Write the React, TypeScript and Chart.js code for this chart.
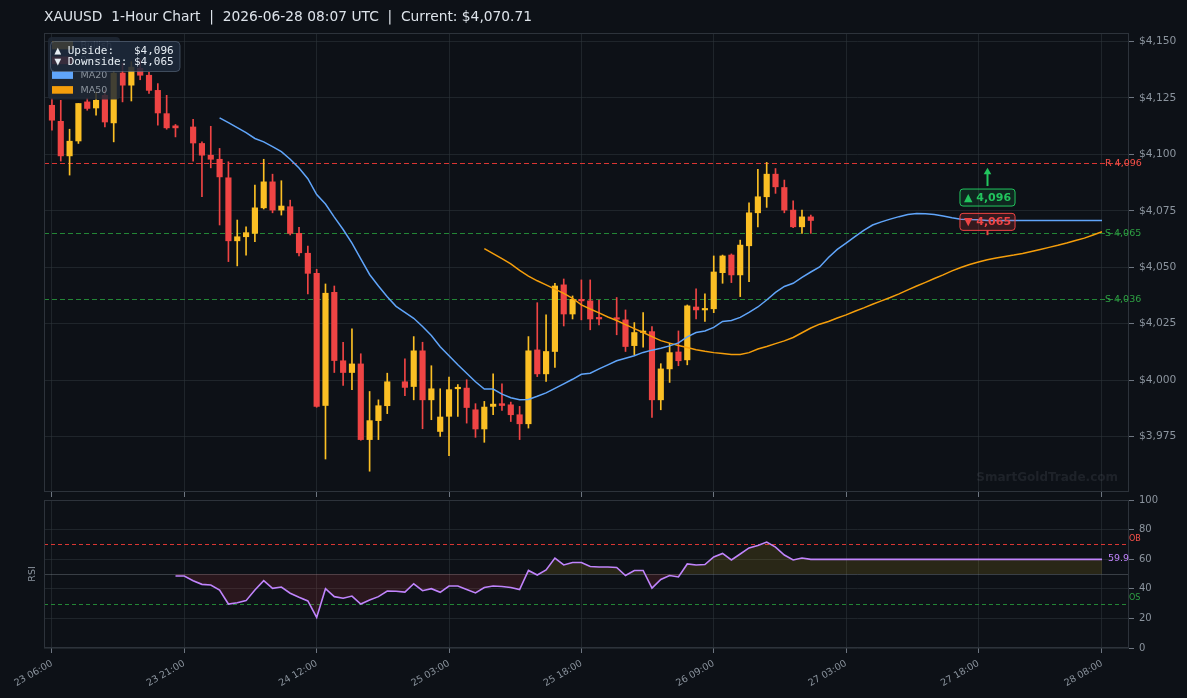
import React, { useEffect, useRef } from 'react';
import { Chart, registerables } from 'chart.js';

Chart.register(...registerables);

// ---------------- DATA ----------------
const TITLE = 'XAUUSD  1-Hour Chart  |  2026-06-28 08:07 UTC  |  Current: $4,070.71';
const WATERMARK = 'SmartGoldTrade.com';

// candle OHLC, index 0..86 (null = missing hour)
const opens: (number | null)[] = [
  4121.7, 4114.6, 4099.3, 4105.9, 4123.2, 4120.5, 4126.1, 4113.9, 4136.0, 4130.6,
  4138.1, 4135.0, 4128.3, 4118.0, 4112.6, null, 4112.1, 4104.8, 4099.6, 4097.8,
  4089.6, 4061.7, 4063.5, 4065.0, 4076.3, 4087.8, 4075.3, 4076.8, 4065.0, 4056.2,
  4047.3, 3988.8, 4038.9, 4008.6, 4003.4, 4007.2, 3973.7, 3982.1, 3988.7, null,
  3999.3, 3997.2, 4013.0, 3991.3, 3977.3, 3984.0, 3996.2, 3996.5, 3986.9, 3978.4,
  3988.4, 3989.6, 3989.1, 3984.7, 3980.7, 4013.4, 4002.8, 4012.7, 4042.2, 4029.3,
  4035.8, 4035.1, 4027.8, null, 4027.4, 4026.7, 4015.3, 4021.1, 4021.5, 3991.3,
  4005.0, 4012.5, 4009.0, 4032.4, 4031.1, 4031.6, 4047.6, 4055.4, 4046.6, 4059.5,
  4074.1, 4081.2, 4091.2, 4085.3, 4075.3, 4067.9, 4072.3,
];
const highs: (number | null)[] = [
  4124.8, 4123.9, 4111.1, 4122.5, 4124.8, 4127.5, 4128.3, 4137.0, 4140.3, 4141.0,
  4141.8, 4136.3, 4131.3, 4126.1, 4113.2, null, 4115.5, 4105.5, 4112.4, 4102.6,
  4096.7, 4070.9, 4067.9, 4086.4, 4097.8, 4091.2, 4088.3, 4079.7, 4067.7, 4059.4,
  4049.1, 4042.6, 4041.7, 4016.8, 4022.7, 4011.7, 3995.0, 3991.3, 4003.1, null,
  4009.5, 4019.3, 4016.8, 4006.4, 3996.2, 4001.4, 3998.0, 4000.2, 3989.6, 3990.6,
  4002.8, 3998.4, 3990.3, 3988.4, 4019.3, 4034.3, 4028.9, 4042.9, 4044.8, 4037.3,
  4044.4, 4044.4, 4035.5, null, 4036.6, 4031.1, 4025.5, 4029.9, 4023.7, 4007.3,
  4016.4, 4021.8, 4033.3, 4040.4, 4038.2, 4055.0, 4055.4, 4055.9, 4062.0, 4078.5,
  4093.4, 4096.4, 4093.7, 4088.6, 4079.4, 4075.3, 4073.1,
];
const lows: (number | null)[] = [
  4110.7, 4097.0, 4090.8, 4104.8, 4119.5, 4117.3, 4112.1, 4105.5, 4123.2, 4123.6,
  4133.0, 4127.0, 4112.9, 4111.1, 4107.7, null, 4097.0, 4081.2, 4094.0, 4068.7,
  4052.5, 4050.6, 4055.4, 4061.3, 4075.8, 4074.1, 4073.1, 4064.3, 4055.0, 4038.2,
  3988.0, 3965.1, 4003.4, 3997.7, 3995.8, 3973.4, 3959.7, 3973.7, 3985.2, null,
  3993.1, 3991.3, 3978.5, 3982.5, 3975.1, 3966.6, 3984.0, 3981.0, 3974.7, 3972.5,
  3984.7, 3986.6, 3981.7, 3973.7, 3978.8, 4001.6, 3999.4, 4005.6, 4024.0, 4027.1,
  4026.7, 4022.3, 4024.5, null, 4020.1, 4012.7, 4011.2, 4014.6, 3983.5, 3986.9,
  3999.0, 4006.4, 4006.8, 4027.1, 4026.0, 4029.9, 4042.9, 4043.2, 4037.0, 4043.6,
  4067.9, 4076.5, 4082.7, 4074.1, 4067.5, 4065.0, 4065.0,
];
const closes: (number | null)[] = [
  4115.1, 4099.3, 4105.8, 4122.5, 4120.3, 4123.9, 4114.3, 4135.9, 4130.6, 4138.6,
  4135.0, 4128.3, 4118.3, 4111.7, 4111.7, null, 4105.0, 4099.6, 4097.8, 4090.0,
  4061.7, 4063.5, 4065.3, 4076.3, 4087.8, 4075.3, 4077.1, 4065.0, 4056.4, 4047.3,
  3988.4, 4038.5, 4008.7, 4003.4, 4007.2, 3973.7, 3982.1, 3988.7, 3999.3, null,
  3996.8, 4013.0, 3991.3, 3996.2, 3983.7, 3995.8, 3996.8, 3987.9, 3978.4, 3988.1,
  3989.4, 3988.8, 3984.7, 3980.7, 4013.0, 4002.8, 4012.7, 4041.7, 4029.3, 4035.8,
  4035.1, 4027.1, 4027.1, null, 4027.0, 4014.9, 4021.1, 4021.5, 3991.3, 4005.0,
  4012.2, 4008.6, 4032.9, 4031.1, 4031.6, 4047.9, 4055.0, 4046.6, 4059.8, 4074.1,
  4081.2, 4091.2, 4085.6, 4075.3, 4067.9, 4072.3, 4070.7,
];

const MA20_START = 19;
const ma20 = [
  4116.1, 4114.0, 4111.8, 4109.6, 4107.0, 4105.5, 4103.4, 4101.2, 4097.8, 4093.9,
  4089.2, 4082.2, 4078.0, 4072.2, 4066.7, 4060.7, 4053.7, 4046.8, 4041.7, 4036.9,
  4032.7, 4030.0, 4027.4, 4023.8, 4019.8, 4014.8, 4010.8, 4006.8, 4003.1, 3999.3,
  3996.1, 3996.1, 3993.8, 3992.2, 3991.3, 3991.5, 3992.9, 3994.4, 3996.4, 3998.4,
  4000.4, 4002.6, 4003.1, 4005.0, 4006.8, 4008.6, 4009.7, 4010.8, 4012.3, 4013.3,
  4014.1, 4015.2, 4016.5, 4019.2, 4021.1, 4021.8, 4023.4, 4026.0, 4026.4, 4027.8,
  4030.0, 4032.4, 4035.5, 4038.9, 4041.5, 4042.9, 4045.5, 4047.9, 4050.1, 4054.3,
  4057.9, 4060.7, 4063.6, 4066.3, 4068.7, 4070.1, 4071.3, 4072.4, 4073.3, 4073.8,
  4073.7, 4073.3, 4072.7, 4071.9, 4071.3, 4071.1, 4071.0, 4070.7, 4070.7, 4070.7,
  4070.7, 4070.7, 4070.7, 4070.7, 4070.7, 4070.7, 4070.7, 4070.7, 4070.7, 4070.7,
  4070.7,
];

const MA50_START = 49;
const ma50 = [
  4058.2, 4056.0, 4053.8, 4051.5, 4048.6, 4046.1, 4044.0, 4042.2, 4040.3, 4038.4,
  4036.2, 4033.3, 4031.5, 4029.8, 4028.0, 4026.4, 4024.6, 4022.8, 4021.1, 4019.3,
  4017.5, 4016.4, 4015.4, 4014.5, 4013.5, 4012.8, 4012.2, 4011.8, 4011.4, 4011.4,
  4012.2, 4013.8, 4014.9, 4016.2, 4017.4, 4018.9, 4021.0, 4023.1, 4024.8, 4026.0,
  4027.5, 4028.9, 4030.5, 4032.0, 4033.6, 4035.1, 4036.6, 4038.2, 4040.0, 4041.7,
  4043.3, 4045.0, 4046.6, 4048.4, 4049.9, 4051.2, 4052.3, 4053.3, 4054.1, 4054.8,
  4055.4, 4056.1, 4057.0, 4057.9, 4058.8, 4059.7, 4060.7, 4061.8, 4062.9, 4064.3,
  4065.7,
];

const RSI_START = 14;
const rsi = [
  48.6, 48.6, 45.5, 43.0, 42.6, 39.2, 29.7, 30.6, 32.0, 39.2,
  45.5, 40.3, 41.2, 37.0, 34.3, 31.8, 20.7, 40.1, 34.7, 33.6,
  35.1, 29.7, 32.4, 34.7, 38.5, 38.3, 37.8, 43.4, 38.7, 40.1,
  37.6, 41.9, 41.9, 39.5, 37.2, 40.9, 41.9, 41.6, 40.9, 39.5,
  52.4, 49.3, 52.7, 60.8, 56.1, 57.8, 57.8, 55.1, 54.7, 54.7,
  54.4, 49.0, 52.4, 52.4, 40.5, 46.3, 49.0, 48.0, 56.8, 56.1,
  56.4, 61.5, 63.9, 59.5, 63.5, 67.6, 69.3, 71.6, 68.2, 62.8,
  59.5, 60.8, 59.9, 59.9, 59.9, 59.9, 59.9, 59.9, 59.9, 59.9,
  59.9, 59.9, 59.9, 59.9, 59.9, 59.9, 59.9, 59.9, 59.9, 59.9,
  59.9, 59.9, 59.9, 59.9, 59.9, 59.9, 59.9, 59.9, 59.9, 59.9,
  59.9, 59.9, 59.9, 59.9, 59.9, 59.9,
];

const tickIdx = [0, 15, 30, 45, 60, 75, 90, 105, 119];
const tickLabels = ['23 06:00', '23 21:00', '24 12:00', '25 03:00', '25 18:00', '26 09:00', '27 03:00', '27 18:00', '28 08:00'];
const priceTicks = [3975, 4000, 4025, 4050, 4075, 4100, 4125, 4150];
const rsiTicks = [0, 20, 40, 60, 80, 100];

const levelValues = [4096, 4065, 4036];
const levelLabels = ['R 4,096', 'S 4,065', 'S 4,036'];
const levelKinds = ['R', 'S', 'S'];

const upside = 4096;
const downside = 4065;
const ANNOT_IDX = 106;

const legendLabels = ['Bullish', 'Bearish', 'MA20', 'MA50'];

const rsiLevelValues = [70, 30];
const rsiLevelLabels = ['OB', 'OS'];
const RSI_MID = 50;

// ---------------- STYLE ----------------
const BG = '#0d1117';
const FONT = "'DejaVu Sans', sans-serif";
const MONO = "'DejaVu Sans Mono', monospace";
const BULL = '#fbbf24';
const BEAR = '#ef4444';
const BLUE = '#60a5fa';
const ORANGE = '#f59e0b';
const PURPLE = '#c084fc';
const GRID = 'rgba(48,54,61,0.55)';
const TICKC = '#6e7681';
const LABEL = '#8b949e';
const BORDER = '#2d333b';
const GREEN = '#22c55e';
const RLINE = '#da3633';
const RTEXT = '#f85149';
const SLINE = '#238636';
const STEXT = '#2ea043';

const X_MIN = -0.9;
const X_MAX = 122.06;
const Y_MIN = 3950.5;
const Y_MAX = 4153.7;

const fmt = (v: number) => v.toLocaleString('en-US');

function rrect(ctx: CanvasRenderingContext2D, x: number, y: number, w: number, h: number, r: number) {
  ctx.beginPath();
  if ((ctx as any).roundRect) (ctx as any).roundRect(x, y, w, h, r);
  else ctx.rect(x, y, w, h);
}

const zeroPad = (s: any) => {
  s.paddingTop = 0;
  s.paddingBottom = 0;
  s.paddingLeft = 0;
  s.paddingRight = 0;
};

const mainPlugin = {
  id: 'mainDecor',
  beforeDatasetsDraw(chart: any) {
    const { ctx, chartArea: a, scales } = chart;
    ctx.save();
    ctx.font = `bold 12px ${FONT}`;
    ctx.fillStyle = 'rgba(110,118,129,0.18)';
    ctx.textAlign = 'right';
    ctx.textBaseline = 'alphabetic';
    ctx.fillText(WATERMARK, a.right - 11, a.bottom - 11);
    levelValues.forEach((v, k) => {
      const y = Math.round(scales.y.getPixelForValue(v)) + 0.5;
      ctx.strokeStyle = levelKinds[k] === 'R' ? RLINE : SLINE;
      ctx.lineWidth = 1;
      ctx.setLineDash([5, 3]);
      ctx.beginPath();
      ctx.moveTo(a.left, y);
      ctx.lineTo(a.right, y);
      ctx.stroke();
    });
    ctx.restore();
  },
  afterDatasetsDraw(chart: any) {
    const { ctx, chartArea: a, scales } = chart;
    ctx.save();
    ctx.setLineDash([]);
    // border
    ctx.strokeStyle = BORDER;
    ctx.lineWidth = 1;
    ctx.strokeRect(a.left + 0.5, a.top + 0.5, a.right - a.left - 1, a.bottom - a.top - 1);

    // level labels
    ctx.font = `9.5px ${FONT}`;
    ctx.textAlign = 'left';
    ctx.textBaseline = 'middle';
    levelValues.forEach((v, k) => {
      const y = scales.y.getPixelForValue(v);
      ctx.fillStyle = levelKinds[k] === 'R' ? RTEXT : STEXT;
      ctx.fillText(levelLabels[k], scales.x.getPixelForValue(tickIdx[tickIdx.length - 1]) + 3, y + 0.5);
    });

    // annotations
    const xa = Math.round(scales.x.getPixelForValue(ANNOT_IDX)) + 0.5;
    const yUp = scales.y.getPixelForValue(upside);
    const yDn = scales.y.getPixelForValue(downside);
    ctx.font = `bold 11px ${FONT}`;
    const drawBox = (cy: number, text: string, col: string, fill: string) => {
      const tw = ctx.measureText(text).width;
      const w = tw + 8;
      const h = 17;
      rrect(ctx, xa - w / 2, cy - h / 2, w, h, 3);
      ctx.fillStyle = fill;
      ctx.fill();
      ctx.strokeStyle = col;
      ctx.lineWidth = 1;
      ctx.stroke();
      ctx.fillStyle = col;
      ctx.textAlign = 'center';
      ctx.textBaseline = 'middle';
      ctx.fillText(text, xa, cy + 0.5);
    };
    const gy = yUp + 34.2;
    // arrow up
    ctx.strokeStyle = GREEN;
    ctx.lineWidth = 2;
    ctx.beginPath();
    ctx.moveTo(xa, gy - 11.5);
    ctx.lineTo(xa, yUp + 9);
    ctx.stroke();
    ctx.fillStyle = GREEN;
    ctx.beginPath();
    ctx.moveTo(xa, yUp + 4.3);
    ctx.lineTo(xa - 3.8, yUp + 10.8);
    ctx.lineTo(xa + 3.8, yUp + 10.8);
    ctx.closePath();
    ctx.fill();
    drawBox(gy, '▲ ' + fmt(upside), GREEN, 'rgba(34,197,94,0.13)');
    const ry = yDn - 11.5;
    ctx.strokeStyle = BEAR;
    ctx.lineWidth = 2;
    ctx.beginPath();
    ctx.moveTo(xa, ry + 8.5);
    ctx.lineTo(xa, yDn + 1.8);
    ctx.stroke();
    drawBox(ry, '▼ ' + fmt(downside), BEAR, 'rgba(239,68,68,0.18)');

    // legend
    rrect(ctx, 48, 37, 72, 62.5, 4);
    ctx.fillStyle = 'rgba(33,41,54,0.85)';
    ctx.fill();
    const legColors = [BULL, BEAR, BLUE, ORANGE];
    ctx.font = `9.5px ${FONT}`;
    ctx.textAlign = 'left';
    ctx.textBaseline = 'middle';
    legendLabels.forEach((lab, k) => {
      const cy = 45.5 + k * 14.8;
      ctx.fillStyle = legColors[k];
      ctx.fillRect(52, cy - 3.8, 21, 7.6);
      ctx.fillStyle = LABEL;
      ctx.fillText(lab, 80.5, cy + 0.5);
    });

    // upside / downside box
    rrect(ctx, 50.5, 41.5, 129.5, 30, 4);
    ctx.fillStyle = 'rgba(30,41,59,0.88)';
    ctx.fill();
    ctx.strokeStyle = 'rgba(100,116,139,0.55)';
    ctx.lineWidth = 1;
    ctx.stroke();
    ctx.font = `11px ${MONO}`;
    ctx.fillStyle = '#e6edf3';
    ctx.fillText('▲ Upside:   $' + fmt(upside), 54.5, 51);
    ctx.fillText('▼ Downside: $' + fmt(downside), 54.5, 62.6);

    // title
    ctx.font = `13.8px ${FONT}`;
    ctx.fillStyle = '#dde3ea';
    ctx.textBaseline = 'alphabetic';
    ctx.fillText(TITLE, 44, 21);
    ctx.restore();
  },
};

const rsiPlugin = {
  id: 'rsiDecor',
  beforeDatasetsDraw(chart: any) {
    const { ctx, chartArea: a, scales } = chart;
    ctx.save();
    const y50 = Math.round(scales.y.getPixelForValue(RSI_MID)) + 0.5;
    ctx.strokeStyle = 'rgba(139,148,158,0.35)';
    ctx.lineWidth = 1;
    ctx.beginPath();
    ctx.moveTo(a.left, y50);
    ctx.lineTo(a.right, y50);
    ctx.stroke();
    rsiLevelValues.forEach((v, k) => {
      const y = Math.round(scales.y.getPixelForValue(v)) + 0.5;
      ctx.strokeStyle = k === 0 ? RLINE : SLINE;
      ctx.setLineDash([4, 3]);
      ctx.beginPath();
      ctx.moveTo(a.left, y);
      ctx.lineTo(a.right, y);
      ctx.stroke();
    });
    ctx.restore();
  },
  afterDatasetsDraw(chart: any) {
    const { ctx, chartArea: a, scales } = chart;
    ctx.save();
    ctx.strokeStyle = BORDER;
    ctx.lineWidth = 1;
    ctx.strokeRect(a.left + 0.5, a.top + 0.5, a.right - a.left - 1, a.bottom - a.top - 1);
    ctx.font = `8px ${FONT}`;
    ctx.textAlign = 'left';
    ctx.textBaseline = 'bottom';
    rsiLevelValues.forEach((v, k) => {
      const y = scales.y.getPixelForValue(v);
      ctx.fillStyle = k === 0 ? RTEXT : STEXT;
      ctx.fillText(rsiLevelLabels[k], a.right, y - 1.5);
    });
    const last = rsi[rsi.length - 1];
    const lx = scales.x.getPixelForValue(RSI_START + rsi.length - 1);
    ctx.font = `9.5px ${FONT}`;
    ctx.fillStyle = PURPLE;
    ctx.textBaseline = 'middle';
    ctx.fillText(last.toFixed(1), lx + 6, scales.y.getPixelForValue(last) - 0.5);
    // axis title
    ctx.translate(33, (a.top + a.bottom) / 2);
    ctx.rotate(-Math.PI / 2);
    ctx.textAlign = 'center';
    ctx.fillStyle = LABEL;
    ctx.fillText('RSI', 0, 0);
    ctx.restore();
  },
};

function buildMain(canvas: HTMLCanvasElement) {
  const idx = opens.map((_, i) => i).filter((i) => opens[i] !== null);
  const colors = idx.map((i) => ((closes[i] as number) >= (opens[i] as number) ? BULL : BEAR));
  const bodies = idx.map((i) => ({ x: i, y: [opens[i], closes[i]] }));
  const wicks = idx.map((i) => ({ x: i, y: [lows[i], highs[i]] }));
  const m20 = ma20.map((v, k) => ({ x: MA20_START + k, y: v }));
  const m50 = ma50.map((v, k) => ({ x: MA50_START + k, y: v }));
  return new Chart(canvas, {
    type: 'bar',
    data: {
      datasets: [
        { type: 'line', label: 'MA20', data: m20 as any, borderColor: BLUE, borderWidth: 1.5, pointRadius: 0, tension: 0, order: 0 } as any,
        { type: 'line', label: 'MA50', data: m50 as any, borderColor: ORANGE, borderWidth: 1.5, pointRadius: 0, tension: 0, order: 0 } as any,
        { type: 'bar', label: 'body', data: bodies as any, backgroundColor: colors, barThickness: 5.5, grouped: false, minBarLength: 1.5, borderWidth: 0, order: 1 } as any,
        { type: 'bar', label: 'wick', data: wicks as any, backgroundColor: colors, barThickness: 1, grouped: false, borderWidth: 0, order: 2 } as any,
      ],
    },
    options: {
      animation: false,
      responsive: false,
      devicePixelRatio: 1,
      layout: { autoPadding: false, padding: { top: 33, left: 44, right: 0, bottom: 0 } },
      plugins: { legend: { display: false }, tooltip: { enabled: false }, title: { display: false } },
      scales: {
        x: {
          type: 'linear',
          min: X_MIN,
          max: X_MAX,
          offset: false,
          afterBuildTicks: (s: any) => { s.ticks = tickIdx.map((v) => ({ value: v })); },
          afterFit: (s: any) => { s.height = 6; zeroPad(s); },
          ticks: { display: false },
          grid: { color: GRID, drawTicks: true, tickLength: 5, tickColor: TICKC, offset: false },
          border: { display: false },
        },
        y: {
          type: 'linear',
          position: 'right',
          min: Y_MIN,
          max: Y_MAX,
          afterBuildTicks: (s: any) => { s.ticks = priceTicks.map((v) => ({ value: v })); },
          afterFit: (s: any) => { s.width = 58; zeroPad(s); },
          ticks: {
            color: LABEL,
            font: { family: FONT, size: 10.7 },
            padding: 5,
            callback: (v: any) => '$' + fmt(Number(v)),
          },
          grid: { color: GRID, tickLength: 5, tickColor: TICKC },
          border: { display: false },
        },
      },
    } as any,
    plugins: [mainPlugin],
  });
}

function buildRsi(canvas: HTMLCanvasElement) {
  const data = rsi.map((v, k) => ({ x: RSI_START + k, y: v }));
  return new Chart(canvas, {
    type: 'line',
    data: {
      datasets: [
        {
          label: 'RSI',
          data: data as any,
          borderColor: PURPLE,
          borderWidth: 1.6,
          pointRadius: 0,
          tension: 0,
          fill: { value: RSI_MID, above: 'rgba(250,204,21,0.12)', below: 'rgba(239,68,68,0.13)' },
        } as any,
      ],
    },
    options: {
      animation: false,
      responsive: false,
      devicePixelRatio: 1,
      layout: { autoPadding: false, padding: { top: 10, left: 44, right: 0, bottom: 0 } },
      plugins: { legend: { display: false }, tooltip: { enabled: false }, title: { display: false } },
      scales: {
        x: {
          type: 'linear',
          min: X_MIN,
          max: X_MAX,
          offset: false,
          afterBuildTicks: (s: any) => { s.ticks = tickIdx.map((v) => ({ value: v })); },
          afterFit: (s: any) => { s.height = 50; zeroPad(s); },
          ticks: {
            color: LABEL,
            font: { family: FONT, size: 9.5 },
            minRotation: 30,
            maxRotation: 30,
            autoSkip: false,
            padding: 5,
            callback: (v: any) => {
              const k = tickIdx.indexOf(Number(v));
              return k >= 0 ? tickLabels[k] : '';
            },
          },
          grid: { color: GRID, drawTicks: true, tickLength: 5, tickColor: TICKC, offset: false },
          border: { display: false },
        },
        y: {
          type: 'linear',
          position: 'right',
          min: 0,
          max: 100,
          afterBuildTicks: (s: any) => { s.ticks = rsiTicks.map((v) => ({ value: v })); },
          afterFit: (s: any) => { s.width = 58; zeroPad(s); },
          ticks: { color: LABEL, font: { family: FONT, size: 10 }, padding: 5 },
          grid: { color: GRID, tickLength: 5, tickColor: TICKC },
          border: { display: false },
        },
      },
    } as any,
    plugins: [rsiPlugin],
  });
}

export default function App() {
  const mainRef = useRef<HTMLCanvasElement>(null);
  const rsiRef = useRef<HTMLCanvasElement>(null);
  useEffect(() => {
    const m = buildMain(mainRef.current as HTMLCanvasElement);
    const r = buildRsi(rsiRef.current as HTMLCanvasElement);
    return () => {
      m.destroy();
      r.destroy();
    };
  }, []);
  return (
    <div style={{ position: 'absolute', left: 0, top: 0, width: 1187, height: 698, background: BG, overflow: 'hidden' }}>
      <canvas ref={mainRef} width={1187} height={498} style={{ position: 'absolute', left: 0, top: 0, width: 1187, height: 498 }} />
      <canvas ref={rsiRef} width={1187} height={208} style={{ position: 'absolute', left: 0, top: 490, width: 1187, height: 208 }} />
    </div>
  );
}
